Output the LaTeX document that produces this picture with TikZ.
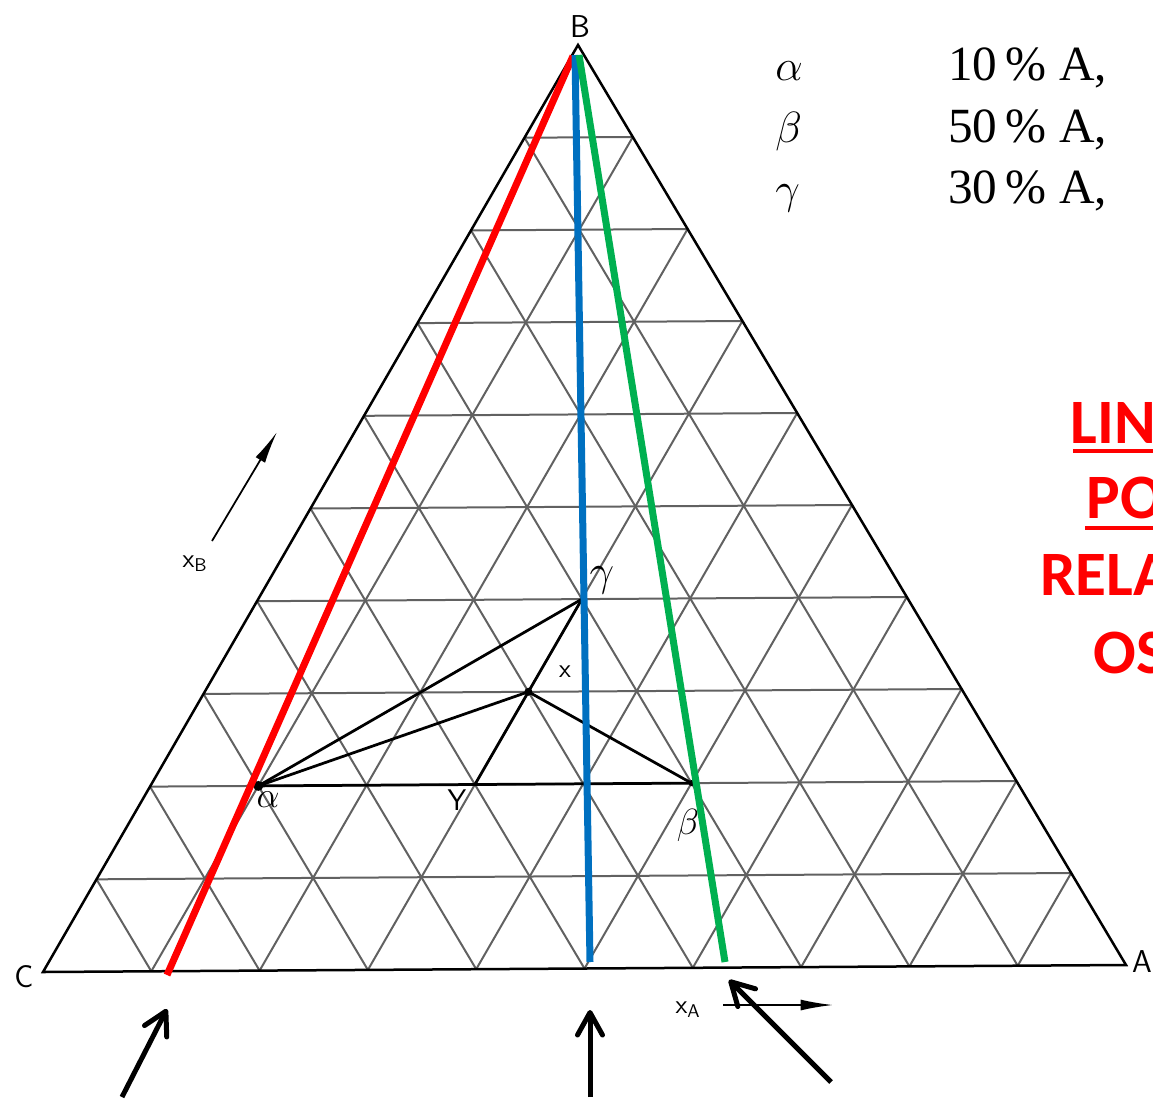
\documentclass[tikz,border=0pt]{standalone}
\usepackage{fontspec}
\newfontfamily\calib{Carlito}
\newfontfamily\timesl{Liberation Serif}
\usetikzlibrary{arrows.meta}
\definecolor{myred}{RGB}{255,0,0}
\definecolor{myblue}{RGB}{0,112,192}
\definecolor{mygreen}{RGB}{0,176,80}
\begin{document}
\begin{tikzpicture}[x=0.02cm,y=-0.02cm,
  gridline/.style={black!62,line width=0.04cm},
  side/.style={black,line width=0.05cm},
  tie/.style={black,line width=0.055cm},
  colline/.style={line width=0.14cm},
  pointer/.style={black,line width=0.1cm,-{Straight Barb[round,length=0.45cm,width=0.5cm]}},
  axarrow/.style={black,line width=0.035cm,-{Latex[length=0.65cm,width=0.22cm]}},
  vlabel/.style={font=\sffamily\fontsize{18}{18}\selectfont,inner sep=0pt},
  plabel/.style={font=\fontsize{20}{20}\selectfont,inner sep=0pt},
  legend/.style={font=\timesl\fontsize{28}{30}\selectfont,anchor=base west,inner sep=0pt},
  redtext/.style={font=\calib\bfseries\fontsize{36}{36}\selectfont,text=myred,anchor=base west,inner sep=0pt}]
\useasboundingbox (0,0) rectangle (1153,1103);
\clip (0,0) rectangle (1153,1103);

\coordinate (B) at (578,45);
\coordinate (C) at (43,972);
\coordinate (A) at (1126,965);

% grid
\foreach \i in {1,...,9} {
  \pgfmathsetmacro\p{\i/10}
  \pgfmathsetmacro\q{1-\i/10}
  \draw[gridline] (barycentric cs:B=\p,C=\q) -- (barycentric cs:B=\p,A=\q);
  \draw[gridline] (barycentric cs:A=\p,C=\q) -- (barycentric cs:A=\p,B=\q);
  \draw[gridline] (barycentric cs:C=\p,A=\q) -- (barycentric cs:C=\p,B=\q);
}
\draw[side] (A) -- (B) -- (C) -- cycle;

% vertex labels
\node[vlabel] (lB) at (580,27) {B};
\node[vlabel] (lC) at (24,977) {C};
\node[vlabel] (lA) at (1142,962) {A};

% points
\coordinate (al) at (barycentric cs:A=0.1,B=0.2,C=0.7);
\coordinate (be) at (barycentric cs:A=0.5,B=0.2,C=0.3);
\coordinate (ga) at (barycentric cs:A=0.3,B=0.4,C=0.3);
\coordinate (X)  at (barycentric cs:A=0.3,B=0.3,C=0.4);
\coordinate (Y)  at (barycentric cs:A=0.3,B=0.2,C=0.5);

\draw[tie] (al) -- (be);
\draw[tie] (al) -- (ga);
\draw[tie] (al) -- (X);
\draw[tie] (ga) -- (Y);
\draw[tie] (X) -- (be);
\fill (al) circle (5);
\fill (X) circle (4);
\fill (be) circle (3);

\node[plabel] (lal) at (268,800) {$\alpha$};
\node[plabel] (lbe) at (688,825) {$\beta$};
\node[plabel,font=\fontsize{24}{24}\selectfont] (lga) at (602,580) {$\gamma$};
\node[plabel,font=\sffamily\fontsize{15}{15}\selectfont] (lX) at (565,672) {x};
\node[plabel,font=\sffamily\fontsize{17}{17}\selectfont] (lY) at (457,800) {Y};

% axis arrows
\coordinate (xb0) at (212,541);
\coordinate (xb1) at (277,432);
\draw[axarrow] (xb0) -- (xb1);
\node[plabel,font=\sffamily\fontsize{15}{15}\selectfont] (lxb) at (195,564) {x$_{\mathsf{B}}$};
\coordinate (xa0) at (723,1005);
\coordinate (xa1) at (833,1005);
\draw[axarrow] (xa0) -- (xa1);
\node[plabel,font=\sffamily\fontsize{15}{15}\selectfont] (lxa) at (688,1010) {x$_{\mathsf{A}}$};

% coloured lines
\coordinate (r0) at (573,56);
\coordinate (r1) at (167,975);
\coordinate (b0) at (575,55);
\coordinate (b1) at (590,962);
\coordinate (g0) at (579,55);
\coordinate (g1) at (725,962);
\draw[colline,myred] (r0) -- (r1);
\draw[colline,myblue] (b0) -- (b1);
\draw[colline,mygreen] (g0) -- (g1);

% pointers
\coordinate (p1a) at (122,1097);
\coordinate (p1b) at (167,1009);
\coordinate (p2a) at (590,1097);
\coordinate (p2b) at (590,1010);
\coordinate (p3a) at (831,1082);
\coordinate (p3b) at (729,980);
\draw[pointer] (p1a) -- (p1b);
\draw[pointer] (p2a) -- (p2b);
\draw[pointer] (p3a) -- (p3b);

% legend
\node[legend] (g1l) at (775,80) {$\alpha$};
\node[legend] (g2l) at (775,142) {$\beta$};
\node[legend] (g3l) at (775,203) {$\gamma$};
\node[legend] (t1) at (948,80) {10\,\% A,};
\node[legend] (t2) at (948,142) {50\,\% A,};
\node[legend] (t3) at (948,203) {30\,\% A,};

% red text (cut at right edge, as in the reference)
\node[redtext] (rt1) at (1070,443) {LIN};
\node[redtext] (rt2) at (1086,518) {PO};
\node[redtext] (rt3) at (1040,595) {RELA};
\node[redtext] (rt4) at (1093,673) {OS};
\draw[myred,line width=0.08cm] (1073,451) -- (1160,451);
\draw[myred,line width=0.08cm] (1085,528) -- (1160,528);
\end{tikzpicture}
\end{document}
